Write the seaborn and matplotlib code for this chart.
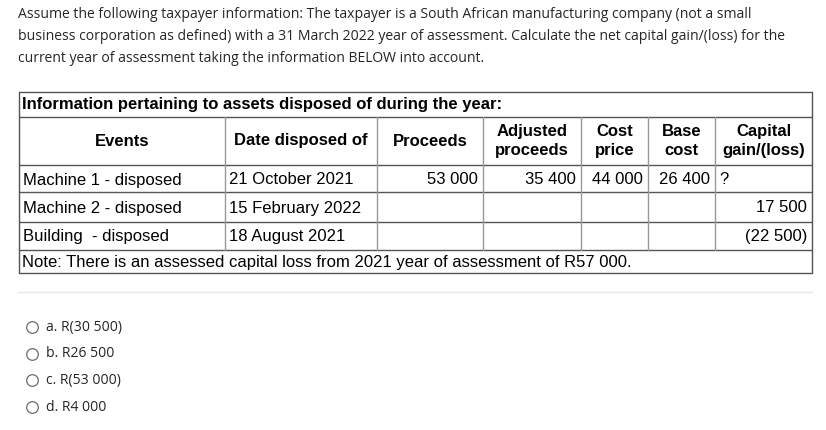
import matplotlib.pyplot as plt
import seaborn as sns

sns.set_style("white")

# question text
question = [
    "Assume the following taxpayer information: The taxpayer is a South African manufacturing company (not a small",
    "business corporation as defined) with a 31 March 2022 year of assessment. Calculate the net capital gain/(loss) for the",
    "current year of assessment taking the information BELOW into account.",
]
title = "Information pertaining to assets disposed of during the year:"
headers = ["Events", "Date disposed of", "Proceeds", "Adjusted\nproceeds", "Cost\nprice", "Base\ncost", "Capital\ngain/(loss)"]
events = ["Machine 1 - disposed", "Machine 2 - disposed", "Building  - disposed"]
dates = ["21 October 2021", "15 February 2022", "18 August 2021"]
proceeds = ["53 000", "", ""]
adj_proceeds = ["35 400", "", ""]
cost_price = ["44 000", "", ""]
base_cost = ["26 400", "", ""]
gain_loss = ["?", "17 500", "(22 500)"]
note = "Note: There is an assessed capital loss from 2021 year of assessment of R57 000."
options = ["a. R(30 500)", "b. R26 500", "c. R(53 000)", "d. R4 000"]

fig = plt.figure(figsize=(8.26, 4.30), dpi=100)
ax = fig.add_axes([0, 0, 1, 1])
ax.set_xlim(0, 826)
ax.set_ylim(430, 0)
ax.axis("off")

qfont = dict(family="Open Sans", fontsize=10.1, color="#262626")
for i, line in enumerate(question):
    ax.text(18, 14 + i * 22, line, va="center", **qfont)

tfont = dict(family="Liberation Sans", fontsize=12, color="black")
xs = [19, 225, 377, 483, 581, 648, 715, 812]
hy = [92, 117, 165, 192, 222, 250, 273]
lc = "#555555"

# table lines
for y in hy:
    ax.plot([xs[0], xs[-1]], [y, y], color=lc, lw=1)
ax.plot([xs[0], xs[0]], [hy[0], hy[-1]], color=lc, lw=1)
ax.plot([xs[-1], xs[-1]], [hy[0], hy[-1]], color=lc, lw=1)
for x in xs[1:-1]:
    ax.plot([x, x], [hy[1], hy[5]], color="#999999", lw=1)

ax.text(22, 105, title, va="center", fontweight="bold", **tfont)
for j, h in enumerate(headers):
    ax.text((xs[j] + xs[j + 1]) / 2, 141, h, ha="center", va="center",
            fontweight="bold", linespacing=1.4, **tfont)

cols = [events, dates, proceeds, adj_proceeds, cost_price, base_cost, gain_loss]
row_y = [180, 208, 237]
for r, y in enumerate(row_y):
    for j, col in enumerate(cols):
        val = col[r]
        if not val:
            continue
        if j < 2 or val == "?":
            ax.text(xs[j] + 4, y, val, va="center", **tfont)
        else:
            ax.text(xs[j + 1] - 5, y, val, va="center", ha="right", **tfont)
ax.text(22, 262, note, va="center", **tfont)

ax.plot([18, 812], [292, 292], color="#e6e6e6", lw=1)

for i, opt in enumerate(options):
    y = 327 + i * 26.7
    ax.scatter([32], [y], s=70, facecolor="white", edgecolor="#6b6b6b", lw=0.9)
    ax.text(46, y, opt, va="center", **qfont)

fig.savefig("out.png", dpi=100)
